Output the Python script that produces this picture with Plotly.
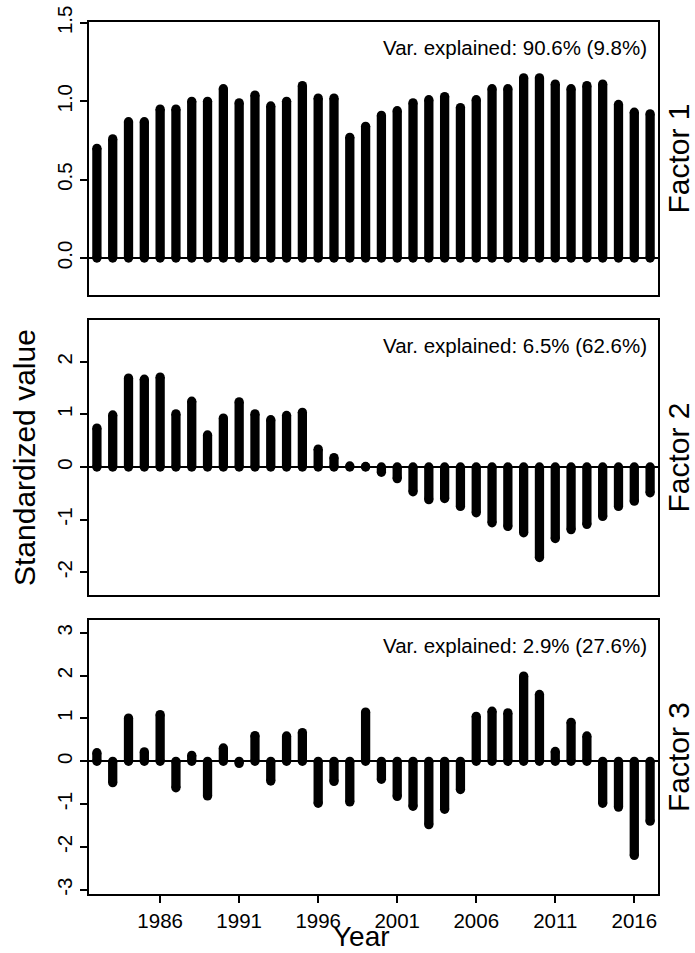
import plotly.graph_objects as go

years = list(range(1982, 2018))

factor1 = [0.70, 0.76, 0.87, 0.87, 0.95, 0.95, 1.00, 1.00, 1.08, 0.99, 1.04, 0.97,
           1.00, 1.10, 1.02, 1.02, 0.77, 0.84, 0.91, 0.94, 0.99, 1.01, 1.03, 0.96,
           1.01, 1.08, 1.08, 1.15, 1.15, 1.11, 1.08, 1.10, 1.11, 0.98, 0.93, 0.92]

factor2 = [0.74, 0.99, 1.69, 1.67, 1.71, 1.01, 1.25, 0.61, 0.93, 1.24, 1.01, 0.90,
           0.98, 1.04, 0.34, 0.18, 0.02, 0.01, -0.10, -0.22, -0.47, -0.62, -0.60, -0.75,
           -0.87, -1.06, -1.13, -1.25, -1.72, -1.36, -1.19, -1.09, -0.94, -0.75, -0.65, -0.49]

factor3 = [0.20, -0.50, 1.01, 0.22, 1.09, -0.62, 0.14, -0.81, 0.31, -0.05, 0.60, -0.46,
           0.59, 0.67, -0.98, -0.47, -0.95, 1.15, -0.42, -0.82, -1.05, -1.48, -1.12, -0.66,
           1.05, 1.17, 1.13, 1.99, 1.56, 0.23, 0.91, 0.59, -0.98, -1.07, -2.20, -1.40]

factors = [factor1, factor2, factor3]
factor_names = ["Factor 1", "Factor 2", "Factor 3"]
var_text = ["Var. explained: 90.6% (9.8%)",
            "Var. explained: 6.5% (62.6%)",
            "Var. explained: 2.9% (27.6%)"]
y_ranges = [[-0.236, 1.506], [-2.433, 2.795], [-3.10, 3.30]]
y_tickvals = [[0.0, 0.5, 1.0, 1.5], [-2, -1, 0, 1, 2], [-3, -2, -1, 0, 1, 2, 3]]
y_ticktext = [["0.0", "0.5", "1.0", "1.5"], ["-2", "-1", "0", "1", "2"],
              ["-3", "-2", "-1", "0", "1", "2", "3"]]
x_tickvals = [1986, 1991, 1996, 2001, 2006, 2011, 2016]
x_ticktext = ["1986", "1991", "1996", "2001", "2006", "2011", "2016"]

W, H = 695, 953
ML, MR, MT, MB = 89, 37, 22, 59
plot_w = W - ML - MR
plot_h = H - MT - MB
panel_px = [(22, 295), (320, 595), (620, 894)]
domains = [[(H - MB - b) / plot_h, (H - MB - t) / plot_h] for t, b in panel_px]

FONT = "Liberation Sans, Arial, sans-serif"
BASE = 20.5
LAB = 30
LW = 9.3

fig = go.Figure()
for i, vals in enumerate(factors):
    xa = "x" if i == 0 else f"x{i+1}"
    ya = "y" if i == 0 else f"y{i+1}"
    lx, ly = [], []
    for yr, v in zip(years, vals):
        lx += [yr, yr, None]
        ly += [0, v, None]
    fig.add_trace(go.Scatter(x=lx, y=ly, mode="lines", xaxis=xa, yaxis=ya,
                             line=dict(color="black", width=LW), hoverinfo="skip",
                             showlegend=False))
    fig.add_trace(go.Scatter(x=years + years, y=[0] * len(years) + vals, mode="markers",
                             xaxis=xa, yaxis=ya,
                             marker=dict(color="black", size=LW, line=dict(width=0)),
                             showlegend=False))

layout = dict(template="none", width=W, height=H,
              margin=dict(l=ML, r=MR, t=MT, b=MB, pad=0),
              paper_bgcolor="white", plot_bgcolor="white",
              font=dict(family=FONT, color="black", size=BASE), showlegend=False)

for i in range(3):
    xk = "xaxis" if i == 0 else f"xaxis{i+1}"
    yk = "yaxis" if i == 0 else f"yaxis{i+1}"
    ya = "y" if i == 0 else f"y{i+1}"
    xa = "x" if i == 0 else f"x{i+1}"
    last = (i == 2)
    layout[xk] = dict(domain=[0, 1], range=[1981.5, 2017.5], anchor=ya, automargin=False,
                      showline=True, mirror=True, linecolor="black", linewidth=2,
                      showgrid=False, zeroline=False,
                      ticks="outside" if last else "", ticklen=7, tickwidth=2,
                      tickcolor="black",
                      tickvals=x_tickvals if last else [], ticktext=x_ticktext if last else [],
                      showticklabels=last, tickfont=dict(size=BASE))
    layout[yk] = dict(domain=domains[i], range=y_ranges[i], anchor=xa, automargin=False,
                      showline=True, mirror=True, linecolor="black", linewidth=2,
                      showgrid=False, zeroline=True, zerolinecolor="black", zerolinewidth=2,
                      ticks="outside", ticklen=7, tickwidth=2, tickcolor="black",
                      tickvals=y_tickvals[i], ticktext=y_ticktext[i], tickangle=-90,
                      tickfont=dict(size=BASE))

annotations = []
for i in range(3):
    xa = "x" if i == 0 else f"x{i+1}"
    ya = "y" if i == 0 else f"y{i+1}"
    annotations.append(dict(text=var_text[i], xref=f"{xa} domain", yref=f"{ya} domain",
                            x=1, y=1, xanchor="right", yanchor="middle",
                            xshift=-9, yshift=-25, showarrow=False,
                            font=dict(size=BASE)))
    annotations.append(dict(text=factor_names[i], xref="paper", yref="paper",
                            x=(678 - ML) / plot_w, y=sum(domains[i]) / 2,
                            xanchor="center", yanchor="middle", textangle=-90,
                            showarrow=False, font=dict(size=LAB)))
annotations.append(dict(text="Standardized value", xref="paper", yref="paper",
                        x=(24 - ML) / plot_w, y=(H - MB - 458) / plot_h,
                        xanchor="center", yanchor="middle", textangle=-90,
                        showarrow=False, font=dict(size=LAB)))
annotations.append(dict(text="Year", xref="paper", yref="paper",
                        x=(361.5 - ML) / plot_w, y=(H - MB - 936) / plot_h,
                        xanchor="center", yanchor="middle",
                        showarrow=False, font=dict(size=28)))
layout["annotations"] = annotations

fig.update_layout(**layout)
fig.write_html("out.html")
